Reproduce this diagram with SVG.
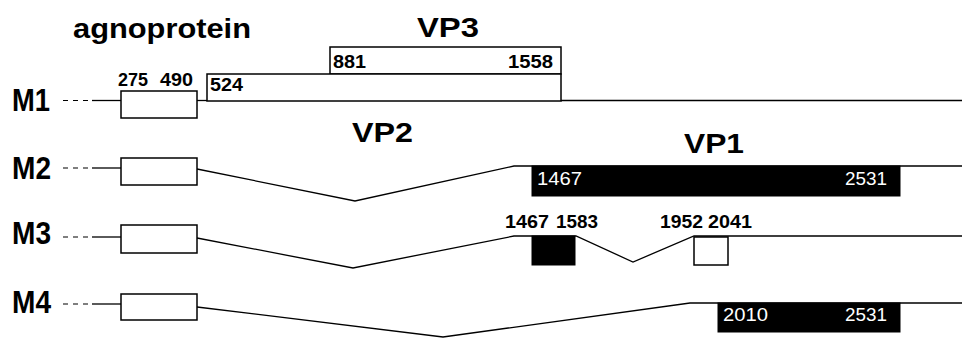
<svg xmlns="http://www.w3.org/2000/svg" width="962" height="338" viewBox="0 0 962 338">
<style>
.bg{fill:#fff}
.lbl{font-family:"Liberation Sans",Arial,sans-serif;font-weight:bold;font-size:31px;fill:#000}
.ttl{font-family:"Liberation Sans",Arial,sans-serif;font-weight:bold;font-size:28px;fill:#000}
.num{font-family:"Liberation Sans",Arial,sans-serif;font-weight:bold;font-size:19px;fill:#000}
.wnum{font-family:"Liberation Sans",Arial,sans-serif;font-size:19px;fill:#fff}
.box{fill:#fff;stroke:#000;stroke-width:1.5}
.blk{fill:#000;stroke:#000;stroke-width:1}
.ln{fill:none;stroke:#000;stroke-width:1.3}
.dash{fill:none;stroke:#000;stroke-width:1.2;stroke-dasharray:5 5}
</style>
<rect class="bg" x="0" y="0" width="962" height="338"/>
<g id="connectors">
  <line class="dash" x1="63" y1="100.5" x2="92" y2="100.5"/>
  <line class="ln" x1="92" y1="100.5" x2="121" y2="100.5"/>
  <line class="ln" x1="197" y1="100.5" x2="207" y2="100.5"/>
  <line class="ln" x1="561" y1="100.5" x2="962" y2="100.5"/>
  <line class="dash" x1="63" y1="168" x2="92" y2="168"/>
  <line class="ln" x1="92" y1="168" x2="121" y2="168"/>
  <polyline class="ln" points="197,169 355,201 514,166 962,166"/>
  <line class="dash" x1="63" y1="237" x2="92" y2="237"/>
  <line class="ln" x1="92" y1="237" x2="121" y2="237"/>
  <polyline class="ln" points="197,238 353,268 514,236 576,236 633,262 694,236 962,236"/>
  <line class="dash" x1="63" y1="304" x2="92" y2="304"/>
  <line class="ln" x1="92" y1="304" x2="121" y2="304"/>
  <polyline class="ln" points="197,307 443,337 690,303 962,303"/>
</g>
<g id="labels">
  <text class="lbl" x="12" y="111" textLength="38" lengthAdjust="spacingAndGlyphs">M1</text>
  <text class="lbl" x="12" y="179" textLength="39" lengthAdjust="spacingAndGlyphs">M2</text>
  <text class="lbl" x="12" y="244" textLength="39" lengthAdjust="spacingAndGlyphs">M3</text>
  <text class="lbl" x="12" y="313" textLength="39" lengthAdjust="spacingAndGlyphs">M4</text>
</g>
<g id="agnoprotein">
  <text class="ttl" x="73" y="38" textLength="178" lengthAdjust="spacingAndGlyphs">agnoprotein</text>
  <text class="num" x="118" y="86" textLength="30" lengthAdjust="spacingAndGlyphs">275</text>
  <text class="num" x="160" y="86" textLength="33" lengthAdjust="spacingAndGlyphs">490</text>
  <rect class="box" x="121" y="91" width="76" height="27"/>
  <rect class="box" x="121" y="158" width="76" height="27"/>
  <rect class="box" x="121" y="225" width="76" height="28"/>
  <rect class="box" x="121" y="294" width="76" height="26"/>
</g>
<g id="vp3">
  <text class="ttl" x="417" y="37" textLength="62" lengthAdjust="spacingAndGlyphs">VP3</text>
  <rect class="box" x="330" y="47" width="231" height="27"/>
  <text class="num" x="333" y="68" textLength="33" lengthAdjust="spacingAndGlyphs">881</text>
  <text class="num" x="508" y="68" textLength="45" lengthAdjust="spacingAndGlyphs">1558</text>
</g>
<g id="vp2">
  <rect class="box" x="207" y="74" width="354" height="27"/>
  <text class="num" x="210" y="91" textLength="33" lengthAdjust="spacingAndGlyphs">524</text>
  <text class="ttl" x="352" y="142" textLength="61" lengthAdjust="spacingAndGlyphs">VP2</text>
</g>
<g id="vp1">
  <text class="ttl" x="684" y="153" textLength="60" lengthAdjust="spacingAndGlyphs">VP1</text>
  <rect class="blk" x="532" y="166" width="368" height="30"/>
  <text class="wnum" x="537" y="185" textLength="45" lengthAdjust="spacingAndGlyphs">1467</text>
  <text class="wnum" x="845" y="185" textLength="42" lengthAdjust="spacingAndGlyphs">2531</text>
</g>
<g id="m3-exons">
  <text class="num" x="505" y="228" textLength="44" lengthAdjust="spacingAndGlyphs">1467</text>
  <text class="num" x="556" y="228" textLength="42" lengthAdjust="spacingAndGlyphs">1583</text>
  <text class="num" x="660" y="228" textLength="43" lengthAdjust="spacingAndGlyphs">1952</text>
  <text class="num" x="708" y="228" textLength="44" lengthAdjust="spacingAndGlyphs">2041</text>
  <rect class="blk" x="532" y="236" width="43" height="29"/>
  <rect class="box" x="694" y="237" width="34" height="28"/>
</g>
<g id="m4-exon">
  <rect class="blk" x="718" y="303" width="182" height="29"/>
  <text class="wnum" x="723" y="321" textLength="45" lengthAdjust="spacingAndGlyphs">2010</text>
  <text class="wnum" x="845" y="321" textLength="42" lengthAdjust="spacingAndGlyphs">2531</text>
</g>
</svg>
